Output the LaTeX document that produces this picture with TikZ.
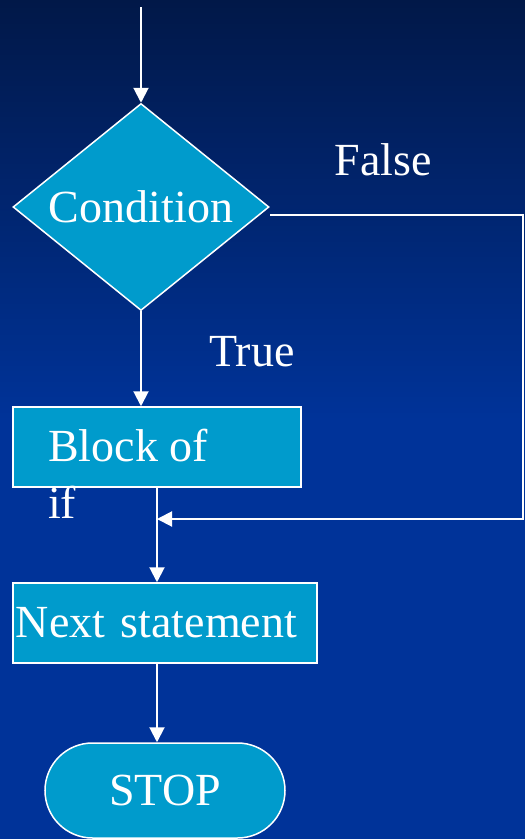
\documentclass[tikz,border=0pt]{standalone}
\usepackage{fontspec}
\setmainfont{Liberation Serif}
\usetikzlibrary{arrows.meta,shapes.geometric,shapes.misc,calc}
\definecolor{bgtop}{RGB}{1,24,72}
\definecolor{bgbot}{RGB}{0,51,153}
\definecolor{boxfill}{RGB}{0,155,204}
\begin{document}
\begin{tikzpicture}[x=1pt,y=-1pt,
  every node/.style={text=white, font=\fontsize{46}{55}\selectfont},
  shp/.style={draw=white, fill=boxfill, line width=1.5pt},
  conn/.style={draw=white, line width=2pt},
  arr/.style={conn, -{Triangle[width=15pt,length=15pt]}}]
\useasboundingbox (0,0) rectangle (525,839);
\shade[top color=bgtop, bottom color=bgbot] (0,0) rectangle (525,420);
\fill[bgbot] (0,419.5) rectangle (525,839);

\node[shp, diamond, inner sep=0pt, aspect=1.237, minimum width=256pt, minimum height=207pt] (cond) at (141,207) {Condition};
\node[shp, minimum width=288pt, minimum height=80pt, inner sep=0pt] (blk) at (157,447) {};
\node[anchor=base west, inner sep=0pt] (blk1) at (48,461) {Block of};
\node[anchor=base west, inner sep=0pt] (blk2) at (48,518) {if};
\node[shp, minimum width=304pt, minimum height=80pt, inner xsep=3pt, text width=298pt, align=left] (nxt) at (165,623) {Next statement};
\node[shp, rounded rectangle, minimum width=240pt, minimum height=95pt, inner sep=0pt] (stop) at (165,790.5) {STOP};

\node (f) at (383,160) {False};
\node (t) at (252,352) {True};

\coordinate (in) at (141,7);
\coordinate (fs) at (270,215);
\coordinate (fc) at (523,215);
\coordinate (mg) at (157,519);

\draw[arr] (in) -- (cond.north);
\draw[arr] (cond.south) -- (cond.south |- blk.north);
\draw[arr] (blk.south) -- (blk.south |- nxt.north);
\draw[arr] (blk.south |- nxt.south) -- (blk.south |- stop.north);
\draw[arr] (fs) -- (fc) |- (mg);
\end{tikzpicture}
\end{document}
